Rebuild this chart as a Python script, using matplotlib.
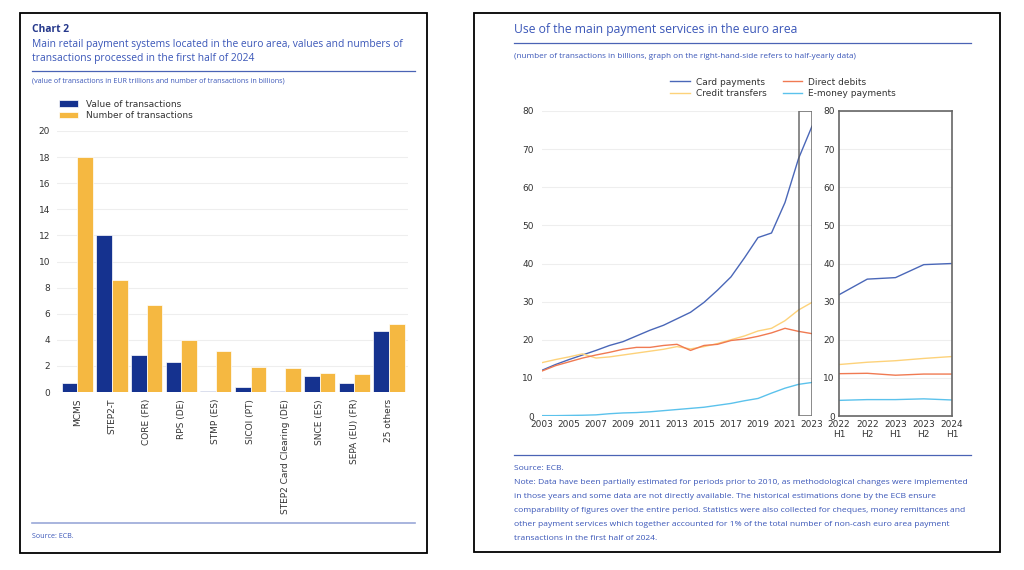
import matplotlib
matplotlib.use("Agg")
from matplotlib import pyplot as plt
from matplotlib.patches import Rectangle
import numpy as np

# left chart data
systems = ["MCMS", "STEP2-T", "CORE (FR)", "RPS (DE)", "STMP (ES)", "SICOI (PT)",
           "STEP2 Card Clearing (DE)", "SNCE (ES)", "SEPA (EU) (FR)", "25 others"]
value_tx = [0.7, 12.0, 2.85, 2.3, 0.1, 0.35, 0.1, 1.25, 0.7, 4.7]
number_tx = [18.0, 8.6, 6.65, 4.0, 3.15, 1.9, 1.85, 1.45, 1.35, 5.2]

# right chart data, annual
years = list(range(2003, 2024))
card = [12.0, 13.5, 14.8, 16.0, 17.2, 18.5, 19.5, 21.0, 22.5, 23.8, 25.5, 27.2,
        29.8, 33.0, 36.5, 41.5, 46.8, 48.0, 56.0, 67.5, 76.0]
credit = [14.0, 14.8, 15.5, 16.3, 15.2, 15.5, 16.0, 16.5, 17.0, 17.5, 18.2, 17.6,
          18.2, 19.0, 20.0, 21.0, 22.3, 23.0, 25.0, 27.8, 29.8]
debits = [11.8, 13.2, 14.2, 15.2, 16.0, 16.7, 17.5, 18.0, 18.0, 18.5, 18.8, 17.2,
          18.5, 18.8, 19.8, 20.2, 20.9, 21.8, 23.0, 22.2, 21.6]
emoney = [0.1, 0.1, 0.15, 0.2, 0.3, 0.6, 0.8, 0.9, 1.1, 1.4, 1.7, 2.0,
          2.3, 2.8, 3.3, 4.0, 4.6, 6.0, 7.3, 8.3, 8.8]

# half-yearly
halves = ["2022\nH1", "2022\nH2", "2023\nH1", "2023\nH2", "2024\nH1"]
card_h = [31.8, 35.9, 36.3, 39.7, 40.0]
credit_h = [13.5, 14.1, 14.5, 15.1, 15.6]
debits_h = [11.1, 11.2, 10.7, 11.0, 11.0]
emoney_h = [4.1, 4.3, 4.3, 4.5, 4.2]

note_lines = [
    "Source: ECB.",
    "Note: Data have been partially estimated for periods prior to 2010, as methodological changes were implemented",
    "in those years and some data are not directly available. The historical estimations done by the ECB ensure",
    "comparability of figures over the entire period. Statistics were also collected for cheques, money remittances and",
    "other payment services which together accounted for 1% of the total number of non-cash euro area payment",
    "transactions in the first half of 2024.",
]

W, H = 1024, 570
fig = plt.figure(figsize=(W / 100, H / 100), dpi=100)

def box(x0, y0, x1, y1):
    # pixel coords (top-left origin) -> figure fraction
    return [x0 / W, 1 - y1 / H, (x1 - x0) / W, (y1 - y0) / H]

def ftext(x, y, s, **kw):
    fig.text(x / W, 1 - y / H, s, **kw)

def hline(x0, x1, y, color, lw=1.0):
    fig.add_artist(plt.Line2D([x0 / W, x1 / W], [1 - y / H, 1 - y / H],
                              color=color, lw=lw))

# panel borders
for x0, y0, x1, y1 in [(20, 13, 427, 553), (474, 13, 1000, 552)]:
    fig.add_artist(Rectangle((x0 / W, 1 - y1 / H), (x1 - x0) / W, (y1 - y0) / H,
                             fill=False, ec="black", lw=1.3))

title_c = "#26398c"
blue_t = "#3a56b8"
tf = "Open Sans"

# ---- left panel ----
ftext(32, 29, "Chart 2", fontsize=7.4, fontweight="bold", color=title_c,
      family=tf, va="center")
ftext(32, 44, "Main retail payment systems located in the euro area, values and numbers of",
      fontsize=7.35, color=blue_t, family=tf, va="center")
ftext(32, 58, "transactions processed in the first half of 2024",
      fontsize=7.35, color=blue_t, family=tf, va="center")
hline(32, 415, 71, "#4a63b5", 0.9)
ftext(32, 81, "(value of transactions in EUR trillions and number of transactions in billions)",
      fontsize=5.1, color=blue_t, family=tf, va="center")
hline(32, 415, 523, "#9aa8d8", 1.2)
ftext(32, 536, "Source: ECB.", fontsize=5.1, color=blue_t, family=tf, va="center")

ax1 = fig.add_axes(box(57, 131, 408, 392))
x = np.arange(len(systems))
bw = 0.45
ax1.bar(x - bw / 2, value_tx, bw, color="#15328f", edgecolor="white", lw=0.5,
        label="Value of transactions")
ax1.bar(x + bw / 2, number_tx, bw, color="#f5b841", edgecolor="white", lw=0.5,
        label="Number of transactions")
ax1.set_xlim(-0.59, 9.55)
ax1.set_ylim(0, 20)
ax1.set_yticks(range(0, 21, 2))
ax1.set_xticks(x)
ax1.set_xticklabels(systems, rotation=90)
ax1.tick_params(length=0, labelsize=6.5, labelcolor="#333333", pad=5)
ax1.grid(axis="y", color="#eeeeee", lw=0.8)
ax1.set_axisbelow(True)
for s in ax1.spines.values():
    s.set_visible(False)
ax1.legend(loc="lower left", bbox_to_anchor=(55 / W, 1 - 124 / H),
           bbox_transform=fig.transFigure, frameon=False, fontsize=6.5,
           handlelength=2.2, handleheight=0.7, labelspacing=0.3,
           borderaxespad=0, labelcolor="#333333")

# ---- right panel ----
ftext(514, 29, "Use of the main payment services in the euro area",
      fontsize=8.7, color=blue_t, family=tf, va="center")
hline(514, 971, 43, "#4a63b5", 0.9)
ftext(514, 57, "(number of transactions in billions, graph on the right-hand-side refers to half-yearly data)",
      fontsize=5.9, color=blue_t, family=tf, va="center")
hline(514, 971, 455, "#4a63b5", 0.9)
for i, line in enumerate(note_lines):
    ftext(514, 469 + 14 * i, line, fontsize=6.1, color=blue_t, family=tf,
          va="center")

c_card, c_debit, c_credit, c_emoney = "#4a67b8", "#f07a52", "#fdd27a", "#5bc2ec"

ax2 = fig.add_axes(box(542, 111, 812, 416))
l1, = ax2.plot(years, card, color=c_card, lw=1)
l2, = ax2.plot(years, credit, color=c_credit, lw=1)
l3, = ax2.plot(years, debits, color=c_debit, lw=1)
l4, = ax2.plot(years, emoney, color=c_emoney, lw=1)
ax2.add_patch(Rectangle((2022, 0), 1, 80, fill=False, ec="#555555", lw=1.2,
                        alpha=0.8, zorder=5))
ax2.set_xlim(2003, 2023)
ax2.set_ylim(0, 80)
ax2.set_xticks(range(2003, 2024, 2))
ax2.set_yticks(range(0, 81, 10))
ax2.tick_params(length=0, labelsize=6.5, labelcolor="#333333", pad=3)
ax2.tick_params(axis="y", pad=6)
ax2.grid(axis="y", color="#eeeeee", lw=0.8)
for s in ax2.spines.values():
    s.set_visible(False)

ax3 = fig.add_axes(box(839, 111, 952, 416))
hx = np.arange(len(halves))
ax3.plot(hx, card_h, color=c_card, lw=1)
ax3.plot(hx, credit_h, color=c_credit, lw=1)
ax3.plot(hx, debits_h, color=c_debit, lw=1)
ax3.plot(hx, emoney_h, color=c_emoney, lw=1)
ax3.set_xlim(0, 4)
ax3.set_ylim(0, 80)
ax3.set_xticks(hx)
ax3.set_xticklabels(halves, linespacing=1.1)
ax3.set_yticks(range(0, 81, 10))
ax3.tick_params(length=0, labelsize=6.5, labelcolor="#333333", pad=3)
ax3.tick_params(axis="y", pad=3)
ax3.grid(axis="y", color="#eeeeee", lw=0.8)
for s in ax3.spines.values():
    s.set_color("#666666")
    s.set_linewidth(1.2)

fig.legend([l1, l2, l3, l4],
           ["Card payments", "Credit transfers", "Direct debits", "E-money payments"],
           loc="center", bbox_to_anchor=(783 / W, 1 - 88 / H), ncol=2,
           frameon=False, fontsize=6.5, handlelength=2.2, columnspacing=1.8,
           handletextpad=0.6, labelspacing=0.3, labelcolor="#333333")

fig.savefig("out.png", dpi=100)
